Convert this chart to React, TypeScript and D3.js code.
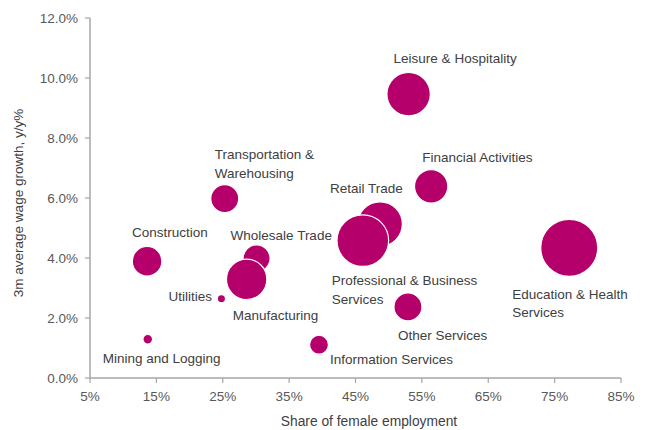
import React from "react";
import * as d3 from "d3";

const industries = [
  "Mining and Logging",
  "Construction",
  "Transportation & Warehousing",
  "Utilities",
  "Wholesale Trade",
  "Manufacturing",
  "Information Services",
  "Retail Trade",
  "Professional & Business Services",
  "Other Services",
  "Leisure & Hospitality",
  "Financial Activities",
  "Education & Health Services",
];
// share of female employment (%)
const femaleShare = [13.7, 13.6, 25.3, 24.8, 30.1, 28.6, 39.5, 48.7, 46.1, 52.9, 53.0, 56.4, 77.2];
// 3m average wage growth y/y (%)
const wageGrowth = [1.29, 3.89, 5.98, 2.64, 3.99, 3.29, 1.11, 5.13, 4.58, 2.37, 9.46, 6.39, 4.34];
// bubble size (employment, millions)
const employment = [0.7, 6.6, 5.9, 0.5, 5.5, 12.3, 2.7, 15.0, 20.1, 5.9, 14.2, 8.4, 24.5];

const labelLines: string[][] = [
  ["Mining and Logging"],
  ["Construction"],
  ["Transportation &", "Warehousing"],
  ["Utilities"],
  ["Wholesale Trade"],
  ["Manufacturing"],
  ["Information Services"],
  ["Retail Trade"],
  ["Professional & Business", "Services"],
  ["Other Services"],
  ["Leisure & Hospitality"],
  ["Financial Activities"],
  ["Education & Health", "Services"],
];
// label offsets in px relative to bubble centre (left edge, first line middle)
const labelOffsets: [number, number][] = [
  [-45, 19],
  [-15, -29],
  [-10, -44],
  [-53, -3],
  [-26, -23],
  [-14, 36],
  [11, 15],
  [-50, -36],
  [-31, 40],
  [-10, 28],
  [-15, -36],
  [-9, -29],
  [-57, 46],
];

const xTicks = [5, 15, 25, 35, 45, 55, 65, 75, 85];
const yTicks = [0, 2, 4, 6, 8, 10, 12];

const W = 645;
const H = 430;
const M = { left: 90, right: 24, top: 18, bottom: 52 };
const FONT = "'Liberation Sans', Arial, sans-serif";

export default function App() {
  const x = d3.scaleLinear().domain([5, 85]).range([M.left, W - M.right]);
  const y = d3.scaleLinear().domain([0, 12]).range([H - M.bottom, M.top]);
  const r = d3.scaleSqrt().domain([0, 24.5]).range([0, 28.5]);
  const axisColor = "#a6a6a6";
  const fill = "#b5006b";
  const y0 = y(0);

  return (
    <svg
      width={W}
      height={H}
      style={{ position: "absolute", left: 0, top: 0, background: "#fff" }}
      fontFamily={FONT}
    >
      {/* axes */}
      <line x1={M.left} x2={M.left} y1={y(12)} y2={y0} stroke={axisColor} strokeWidth={1.5} />
      <line x1={M.left} x2={x(85)} y1={y0} y2={y0} stroke={axisColor} strokeWidth={1.5} />
      {yTicks.map((t) => (
        <g key={"y" + t}>
          <line x1={M.left - 5} x2={M.left} y1={y(t)} y2={y(t)} stroke={axisColor} strokeWidth={1.2} />
          <text x={M.left - 12} y={y(t)} dy="0.35em" textAnchor="end" fontSize={13.5} fill="#595959">
            {d3.format(".1f")(t) + "%"}
          </text>
        </g>
      ))}
      {xTicks.map((t) => (
        <g key={"x" + t}>
          <line x1={x(t)} x2={x(t)} y1={y0} y2={y0 + 5} stroke={axisColor} strokeWidth={1.2} />
          <text x={x(t)} y={y0 + 18} dy="0.35em" textAnchor="middle" fontSize={13.5} fill="#595959">
            {t + "%"}
          </text>
        </g>
      ))}
      <text x={369} y={421} dy="0.35em" textAnchor="middle" fontSize={13.8} fill="#404040">
        Share of female employment
      </text>
      <text
        transform={`translate(18,203) rotate(-90)`}
        dy="0.35em"
        textAnchor="middle"
        fontSize={13.5}
        fill="#404040"
      >
        3m average wage growth, y/y%
      </text>

      {/* bubbles */}
      {industries.map((name, i) => (
        <circle
          key={name}
          cx={x(femaleShare[i])}
          cy={y(wageGrowth[i])}
          r={r(employment[i])}
          fill={fill}
          stroke="#fff"
          strokeWidth={1.2}
        />
      ))}

      {/* labels */}
      {industries.map((name, i) => {
        const cx = x(femaleShare[i]);
        const cy = y(wageGrowth[i]);
        const [dx, dy] = labelOffsets[i];
        return (
          <text key={"l" + name} fontSize={13.5} fill="#404040">
            {labelLines[i].map((line, j) => (
              <tspan key={j} x={cx + dx} y={cy + dy + j * 18.4} dy="0.35em">
                {line}
              </tspan>
            ))}
          </text>
        );
      })}
    </svg>
  );
}
